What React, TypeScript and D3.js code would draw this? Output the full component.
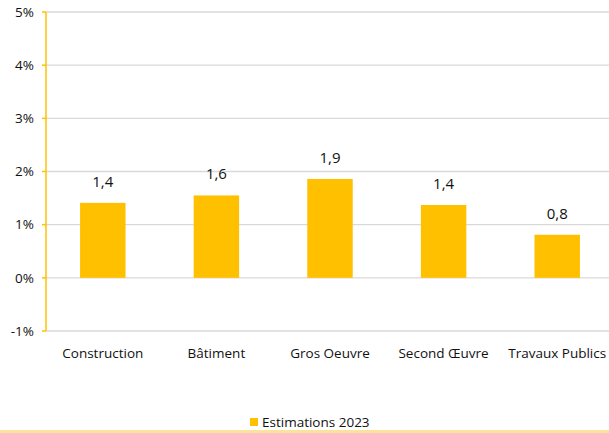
import React from "react";
import { scaleBand, scaleLinear } from "d3";

const categories = ["Construction", "Bâtiment", "Gros Oeuvre", "Second Œuvre", "Travaux Publics"];
const values = [1.41, 1.55, 1.86, 1.37, 0.81];
const valueLabels = ["1,4", "1,6", "1,9", "1,4", "0,8"];
const yTicks = [-1, 0, 1, 2, 3, 4, 5];
const seriesName = "Estimations 2023";

const W = 609;
const H = 433;
const FONT = "'Open Sans', 'Noto Sans', sans-serif";
const GOLD = "#FFC000";
const INK = "#111";

export default function App(): JSX.Element {
  const x = scaleBand<string>().domain(categories).range([46, 614]).paddingInner(0.6).paddingOuter(0.3);
  const y = scaleLinear().domain([-1, 5]).range([331, 12]);

  return (
    <svg
      width={W}
      height={H}
      style={{ position: "absolute", left: 0, top: 0, background: "#fff" }}
      fontFamily={FONT}
    >
      {/* Grid lines */}
      {yTicks.map((t) => (
        <line key={`g-${t}`} x1={46} x2={W} y1={y(t)} y2={y(t)} stroke="#d9d9d9" strokeWidth={1.3} />
      ))}

      {/* Bars */}
      {categories.map((c, i) => (
        <rect
          key={`b-${c}`}
          x={x(c)}
          y={y(Math.max(0, values[i]))}
          width={x.bandwidth()}
          height={Math.abs(y(values[i]) - y(0))}
          fill={GOLD}
        />
      ))}

      {/* Value labels */}
      {categories.map((c, i) => (
        <text
          key={`v-${c}`}
          x={(x(c) ?? 0) + x.bandwidth() / 2}
          y={y(values[i]) - 16}
          textAnchor="middle"
          fontSize={15}
          fill={INK}
        >
          {valueLabels[i]}
        </text>
      ))}

      {/* Y axis */}
      <line x1={46} x2={46} y1={y(5)} y2={y(-1)} stroke={GOLD} strokeWidth={1.5} />
      {yTicks.map((t) => (
        <g key={`t-${t}`}>
          <line x1={42} x2={46} y1={y(t)} y2={y(t)} stroke={GOLD} strokeWidth={1.5} />
          <text x={34} y={y(t)} dy="0.35em" textAnchor="end" fontSize={13.5} fill={INK}>
            {`${t}%`}
          </text>
        </g>
      ))}

      {/* Category labels */}
      {categories.map((c) => (
        <text
          key={`c-${c}`}
          x={(x(c) ?? 0) + x.bandwidth() / 2}
          y={358}
          textAnchor="middle"
          fontSize={13.5}
          fill={INK}
        >
          {c}
        </text>
      ))}

      {/* Legend */}
      <rect x={250} y={418} width={8} height={8} fill={GOLD} />
      <text x={262} y={426.5} fontSize={13.5} fill={INK}>
        {seriesName}
      </text>

      {/* Bottom border */}
      <line x1={0} x2={W} y1={431.5} y2={431.5} stroke="#fbe39a" strokeWidth={3} />
    </svg>
  );
}
